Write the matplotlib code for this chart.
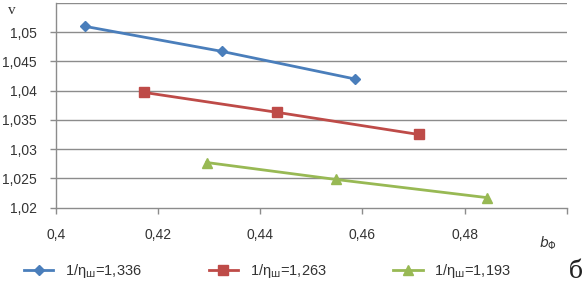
import numpy as np
import matplotlib
matplotlib.use("Agg")
from matplotlib import pyplot as plt

# data
b_336 = [0.4057, 0.4326, 0.4585]
v_336 = [1.0510, 1.0467, 1.0420]

b_263 = [0.4172, 0.4432, 0.4710]
v_263 = [1.0397, 1.0363, 1.0325]

b_193 = [0.4295, 0.4548, 0.4843]
v_193 = [1.0277, 1.0248, 1.0217]

labels = ["1,336", "1,263", "1,193"]
xticks = [0.40, 0.42, 0.44, 0.46, 0.48, 0.50]
xticklabels = ["0,4", "0,42", "0,44", "0,46", "0,48", ""]
yticks = [1.02, 1.025, 1.03, 1.035, 1.04, 1.045, 1.05]
yticklabels = ["1,02", "1,025", "1,03", "1,035", "1,04", "1,045", "1,05"]

plt.rcParams["font.family"] = ["Liberation Sans", "DejaVu Sans"]
plt.rcParams["mathtext.fontset"] = "dejavusans"

grid_c = "#8c8c8c"

fig = plt.figure(figsize=(5.88, 2.87), dpi=100)
ax = fig.add_axes([56 / 588, 1 - 207.5 / 287, (566.7 - 56) / 588, (207.5 - 3) / 287])

series = [
    (b_336, v_336, "#4A7EBB", "D", 5.5),
    (b_263, v_263, "#BE4B48", "s", 7),
    (b_193, v_193, "#98B954", "^", 7.5),
]
for (bx, vy, c, m, ms), lab in zip(series, labels):
    ax.plot(bx, vy, color=c, lw=2, marker=m, ms=ms, mec=c, mfc=c,
            label=r"1/η$_{\mathrm{ш}}$=" + lab, zorder=3)

ax.set_xlim(0.40, 0.50)
ax.set_ylim(1.02, 1.055)
ax.set_xticks(xticks)
ax.set_xticklabels(xticklabels)
ax.set_yticks(yticks)
ax.set_yticklabels(yticklabels)

for y in yticks[1:] + [1.055]:
    ax.axhline(y, color=grid_c, lw=1, zorder=1)

for s in ["top", "right"]:
    ax.spines[s].set_visible(False)
for s in ["left", "bottom"]:
    ax.spines[s].set_color(grid_c)
    ax.spines[s].set_linewidth(1)

ax.tick_params(axis="x", direction="out", length=4, width=1, color=grid_c,
               pad=11, labelsize=10, labelcolor="#333333")
ax.tick_params(axis="y", direction="out", length=4, width=1, color=grid_c,
               pad=10, labelsize=10, labelcolor="#333333")

fig.text(12 / 588, 1 - 11 / 287, "v", fontsize=11, family="Liberation Serif",
         ha="center", va="center", color="#333333")
fig.text(548 / 588, 1 - 243 / 287, r"$b_{\Phi}$", fontsize=10,
         ha="center", va="center", color="#333333")
fig.text(576 / 588, 1 - 271 / 287, "б", fontsize=17, family="DejaVu Serif",
         ha="center", va="center", color="#222222")

fig.legend(loc="center left", bbox_to_anchor=(24 / 588, 1 - 271 / 287),
           ncol=3, frameon=False, fontsize=10.5, handlelength=2.0,
           columnspacing=4.6, handletextpad=0.8, borderaxespad=0,
           borderpad=0, labelcolor="#333333")

fig.savefig("out.png", dpi=100)
